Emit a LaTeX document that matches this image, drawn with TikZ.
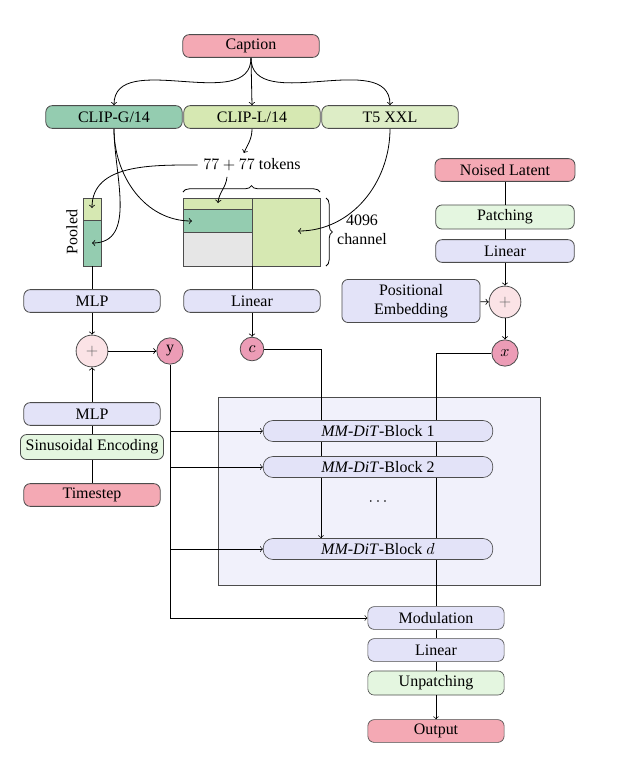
\documentclass[tikz,border=0pt]{standalone}
\usepackage{fontspec}
\setmainfont{Liberation Serif}
\usetikzlibrary{decorations.pathreplacing}
\definecolor{capred}{HTML}{F4A9B4}
\definecolor{dotred}{HTML}{EC9CB6}
\definecolor{pluspink}{HTML}{FBE3E6}
\definecolor{lav}{HTML}{E3E3F8}
\definecolor{palegrn}{HTML}{E4F6E0}
\definecolor{clipgrn}{HTML}{94CCB0}
\definecolor{cliplgrn}{HTML}{D6E8B2}
\definecolor{tfivegrn}{HTML}{DDEDC6}
\definecolor{tokgray}{HTML}{E6E6E6}
\definecolor{ditbg}{HTML}{F1F1FB}
\pgfdeclarelayer{back}
\pgfdeclarelayer{wires}
\pgfsetlayers{back,wires,main}

\begin{document}
\begin{tikzpicture}[x=0.022cm, y=-0.022cm, line width=0.5pt,
  box/.style={draw=black!70, rounded corners=4pt, minimum width=3.0cm, minimum height=0.5cm, inner sep=1pt},
  dot/.style={circle, draw=black!70, fill=dotred, minimum size=0.58cm, inner sep=0pt},
  plus/.style={circle, draw=black!70, fill=pluspink, minimum size=0.7cm, inner sep=0pt, text=black!60},
  block/.style={box, fill=lav, minimum width=5.05cm, minimum height=0.46cm, rounded corners=6pt}]
  \useasboundingbox (0,0) rectangle (618,772);

  % text encoders
  \node[box, fill=capred] (cap) at (251,46) {Caption};
  \node[box, fill=clipgrn] (clipG) at (114,117) {CLIP-G/14};
  \node[box, fill=cliplgrn] (clipL) at (252,117) {CLIP-L/14};
  \node[box, fill=tfivegrn] (t5) at (390,117) {T5 XXL};
  \draw[->] (cap.south) to[out=-90,in=90] (clipG.north);
  \draw[->] (cap.south) -- (clipL.north);
  \draw[->] (cap.south) to[out=-90,in=90] (t5.north);

  % pooled vector and token matrix
  \draw[draw=black!70, fill=cliplgrn] (83,198) rectangle (101,220);
  \draw[draw=black!70, fill=clipgrn] (83,220) rectangle (101,266);
  \node[rotate=90] (pooledlbl) at (72,232) {Pooled};
  \draw[draw=black!70, fill=cliplgrn] (183,198) rectangle (252,209);
  \draw[draw=black!70, fill=clipgrn] (183,209) rectangle (252,232);
  \draw[draw=black!70, fill=tokgray] (183,232) rectangle (252,266);
  \draw[draw=black!70, fill=cliplgrn] (252,198) rectangle (320,266);
  \coordinate (poolT) at (92,208);
  \coordinate (poolB) at (92,243);
  \coordinate (poolS) at (92,266);
  \coordinate (tokT) at (218,203);
  \coordinate (tokM) at (192,221);
  \coordinate (tokR) at (298,231);
  \coordinate (tokS) at (252,266);
  \node (tok) at (252,165) {$77+77$ tokens};
  \draw[decorate, decoration={brace, amplitude=4pt}] (183,192) -- (320,192);
  \draw[decorate, decoration={brace, amplitude=4pt}] (326,198) -- (326,266);
  \node[align=center] (chan) at (362,230) {4096\\channel};
  \draw[->] (clipL.south) to[out=-90,in=65] ([xshift=-0.18cm]tok.north);
  \draw[->] (tok.west) to[out=180,in=90] (poolT);
  \draw[->] ([xshift=-0.55cm]tok.south) to[out=-95,in=85] (tokT);
  \draw[->] (clipG.south) to[out=-90,in=0] (poolB);
  \draw[->] (clipG.south) to[out=-90,in=180] (tokM);
  \draw[->] (t5.south) to[out=-90,in=0] (tokR);

  % projections
  \node[box, fill=lav] (mlpA) at (92,301) {MLP};
  \node[box, fill=lav] (linA) at (252,301) {Linear};
  \draw (poolS) -- (mlpA.north);
  \draw (tokS) -- (linA.north);
  \node[plus] (plusA) at (92,351) {$+$};
  \node[dot] (yv) at (170,351) {y};
  \node[dot, minimum size=0.52cm] (cv) at (252,349) {$c$};
  \draw[->] (mlpA) -- (plusA);
  \draw[->] (plusA) -- (yv);
  \draw[->] (linA) -- (cv);

  % timestep
  \node[box, fill=lav] (mlpB) at (92,414) {MLP};
  \node[box, fill=palegrn, minimum width=3.15cm, minimum height=0.55cm] (sine) at (92,447) {Sinusoidal Encoding};
  \node[box, fill=capred] (tstep) at (92,495) {Timestep};
  \draw (tstep) -- (sine);
  \draw (sine) -- (mlpB);
  \draw[->] (mlpB) -- (plusA);

  % latent
  \node[box, fill=capred, minimum width=3.08cm] (noisy) at (505,170) {Noised Latent};
  \node[box, fill=palegrn, minimum width=3.05cm, minimum height=0.53cm] (patch) at (505,217) {Patching};
  \node[box, fill=lav, minimum width=3.05cm] (linB) at (505,251) {Linear};
  \node[plus] (plusB) at (505,302) {$+$};
  \node[box, fill=lav, minimum width=3.04cm, minimum height=0.95cm, align=center] (posemb) at (411,301) {Positional\\Embedding};
  \node[dot] (xv) at (505,353) {$x$};
  \draw (noisy) -- (patch);
  \draw (patch) -- (linB);
  \draw[->] (linB) -- (plusB);
  \draw[->] (posemb) -- (plusB);
  \draw[->] (plusB) -- (xv);

  % MM-DiT blocks
  \begin{pgfonlayer}{back}
    \draw[draw=black!70, fill=ditbg] (218,397) rectangle (540,585);
  \end{pgfonlayer}
  \node[block] (blk1) at (378,431) {\textit{MM-DiT}-Block 1};
  \node[block] (blk2) at (378,467) {\textit{MM-DiT}-Block 2};
  \node (dots) at (378,502) {$\cdots$};
  \node[block] (blkd) at (378,549) {\textit{MM-DiT}-Block $d$};

  % output
  \node[box, fill=lav] (modu) at (436,618) {Modulation};
  \node[box, fill=lav] (linC) at (436,650) {Linear};
  \node[box, fill=palegrn, minimum height=0.53cm] (unpatch) at (436,683) {Unpatching};
  \node[box, fill=capred] (outp) at (436,731) {Output};
  \draw (modu) -- (linC);
  \draw (linC) -- (unpatch);
  \draw[->] (unpatch) -- (outp);

  % conditioning wires
  \begin{pgfonlayer}{wires}
    \coordinate (cwire) at (321,0);
    \draw[->] (cv.east) -| (cwire |- blkd.north);
    \draw (xv.west) -| (modu.north);
    \draw[->] (yv.south) |- (modu.west);
    \foreach \b in {blk1,blk2,blkd}
      \draw[->] (yv.south |- \b.west) -- (\b.west);
  \end{pgfonlayer}
\end{tikzpicture}
\end{document}
